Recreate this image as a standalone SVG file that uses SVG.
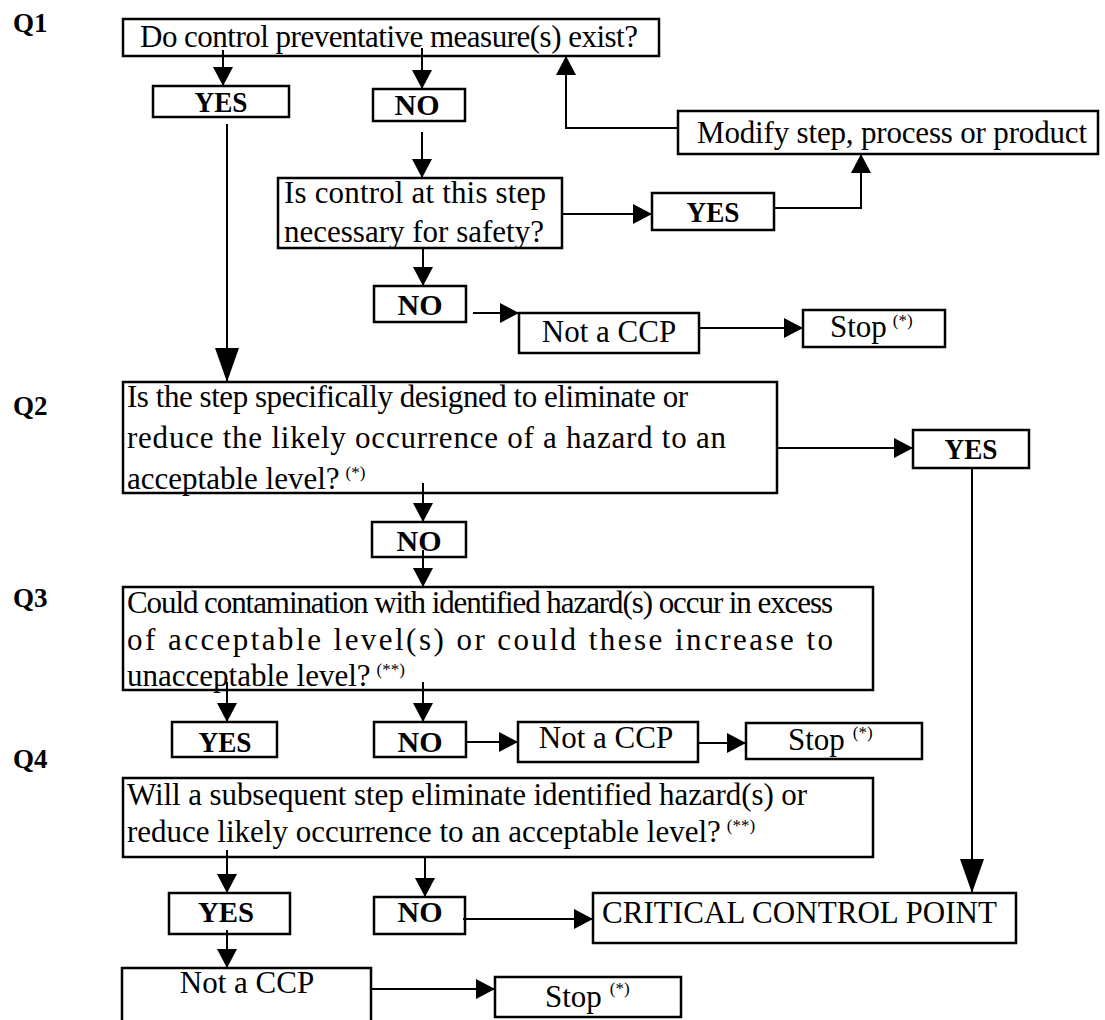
<svg xmlns="http://www.w3.org/2000/svg" width="1105" height="1020" viewBox="0 0 1105 1020">
<style>
.box{fill:#fff;stroke:#000;stroke-width:2.5}
.t{font-family:"Liberation Serif","Times New Roman",serif;font-size:31px;fill:#000}
.b{font-family:"Liberation Serif","Times New Roman",serif;font-size:30px;font-weight:bold;fill:#000;text-anchor:middle}
.q{font-family:"Liberation Serif","Times New Roman",serif;font-size:27px;font-weight:bold;fill:#000}
.m{text-anchor:middle}
.s{font-size:17px}
.c{fill:none;stroke:#000;stroke-width:2}
.a{marker-end:url(#ah)}
.A{marker-end:url(#big)}
</style>
<defs>
<marker id="ah" markerUnits="userSpaceOnUse" viewBox="0 0 19 20" markerWidth="19" markerHeight="20" refX="19" refY="10" orient="auto"><path d="M0,0 L19,10 L0,20 z" fill="#000"/></marker>
<marker id="big" markerUnits="userSpaceOnUse" viewBox="0 0 34 24" markerWidth="34" markerHeight="24" refX="34" refY="12" orient="auto"><path d="M0,0 L34,12 L0,24 z" fill="#000"/></marker>
</defs>
<rect width="1105" height="1020" fill="#fff"/>

<g id="labels">
<text class="q" x="13" y="32">Q1</text>
<text class="q" x="13" y="415">Q2</text>
<text class="q" x="13" y="607">Q3</text>
<text class="q" x="13" y="768">Q4</text>
</g>

<g id="q1">
<rect class="box" x="123" y="19" width="536" height="37"/>
<text class="t" x="140" y="47" textLength="498">Do control preventative measure(s) exist?</text>
</g>
<g id="yes1"><rect class="box" x="153" y="86" width="136" height="31"/><text class="b" x="221" y="112" textLength="53" lengthAdjust="spacingAndGlyphs">YES</text></g>
<g id="no1"><rect class="box" x="373" y="89" width="92" height="32"/><text class="b" x="417" y="115">NO</text></g>
<g id="modify"><rect class="box" x="678" y="111" width="420" height="43"/><text class="t" x="697" y="143" textLength="390">Modify step, process or product</text></g>
<g id="q1b">
<rect class="box" x="278" y="178" width="284" height="70"/>
<text class="t" x="284" y="203" textLength="262">Is control at this step</text>
<text class="t" x="284" y="242">necessary for safety?</text>
</g>
<g id="yes2"><rect class="box" x="652" y="193" width="122" height="37"/><text class="b" x="713" y="222" textLength="53" lengthAdjust="spacingAndGlyphs">YES</text></g>
<g id="no2"><rect class="box" x="374" y="286" width="92" height="36"/><text class="b" x="420" y="315">NO</text></g>
<g id="notccp1"><rect class="box" x="519" y="313" width="180" height="40"/><text class="t m" x="609" y="342">Not a CCP</text></g>
<g id="stop1"><rect class="box" x="803" y="310" width="142" height="37"/><text class="t" x="830" y="337">Stop<tspan class="s" dx="6" dy="-11">(*)</tspan></text></g>

<g id="q2">
<rect class="box" x="123" y="382" width="654" height="111"/>
<text class="t" x="127" y="407" textLength="561">Is the step specifically designed to eliminate or</text>
<text class="t" x="127" y="448" textLength="599">reduce the likely occurrence of a hazard to an</text>
<text class="t" x="127" y="489">acceptable level?<tspan class="s" dx="6" dy="-11">(*)</tspan></text>
</g>
<g id="yes3"><rect class="box" x="913" y="430" width="116" height="38"/><text class="b" x="971" y="459" textLength="53" lengthAdjust="spacingAndGlyphs">YES</text></g>
<g id="no3"><rect class="box" x="372" y="522" width="94" height="35"/><text class="b" x="419" y="551">NO</text></g>

<g id="q3">
<rect class="box" x="123" y="587" width="750" height="103"/>
<text class="t" x="127" y="613" textLength="706">Could contamination with identified hazard(s) occur in excess</text>
<text class="t" x="127" y="650" textLength="706">of acceptable level(s) or could these increase to</text>
<text class="t" x="127" y="686">unacceptable level?<tspan class="s" dx="6" dy="-11">(**)</tspan></text>
</g>
<g id="yes4"><rect class="box" x="172" y="722" width="105" height="35"/><text class="b" x="225" y="752" textLength="53" lengthAdjust="spacingAndGlyphs">YES</text></g>
<g id="no4"><rect class="box" x="374" y="722" width="92" height="35"/><text class="b" x="420" y="752">NO</text></g>
<g id="notccp2"><rect class="box" x="518" y="722" width="180" height="40"/><text class="t m" x="606" y="748">Not a CCP</text></g>
<g id="stop2"><rect class="box" x="746" y="723" width="176" height="36"/><text class="t" x="788" y="750">Stop<tspan class="s" dx="8" dy="-12">(*)</tspan></text></g>

<g id="q4">
<rect class="box" x="123" y="778" width="750" height="79"/>
<text class="t" x="127" y="805" textLength="680">Will a subsequent step eliminate identified hazard(s) or</text>
<text class="t" x="127" y="842">reduce likely occurrence to an acceptable level?<tspan class="s" dx="6" dy="-11">(**)</tspan></text>
</g>
<g id="yes5"><rect class="box" x="169" y="893" width="121" height="41"/><text class="b" x="226" y="922" textLength="56" lengthAdjust="spacingAndGlyphs">YES</text></g>
<g id="no5"><rect class="box" x="374" y="897" width="91" height="37"/><text class="b" x="420" y="922">NO</text></g>
<g id="ccp"><rect class="box" x="593" y="893" width="423" height="50"/><text class="t" x="602" y="923" textLength="395">CRITICAL CONTROL POINT</text></g>
<g id="notccp3"><rect class="box" x="122" y="968" width="249" height="60"/><text class="t m" x="247" y="993">Not a CCP</text></g>
<g id="stop3"><rect class="box" x="495" y="977" width="186" height="40"/><text class="t" x="545" y="1007">Stop<tspan class="s" dx="8" dy="-13">(*)</tspan></text></g>

<g id="connectors">
<path class="c a" d="M223,50 V86"/>
<path class="c a" d="M422,48 V89"/>
<path class="c a" d="M678,128 H566 V56"/>
<path class="c a" d="M422,132 V178"/>
<path class="c a" d="M562,214 H652"/>
<path class="c a" d="M774,208 H861 V154"/>
<path class="c a" d="M423,248 V286"/>
<path class="c a" d="M473,313 H519"/>
<path class="c a" d="M699,328 H803"/>
<path class="c A" d="M227,124 V382"/>
<path class="c a" d="M777,448 H913"/>
<path class="c A" d="M972,468 V893"/>
<path class="c a" d="M423,483 V522"/>
<path class="c a" d="M423,550 V587"/>
<path class="c a" d="M227,682 V722"/>
<path class="c a" d="M423,682 V722"/>
<path class="c a" d="M466,742 H518"/>
<path class="c a" d="M698,743 H746"/>
<path class="c a" d="M227,850 V893"/>
<path class="c a" d="M425,857 V897"/>
<path class="c a" d="M463,919 H593"/>
<path class="c a" d="M227,930 V968"/>
<path class="c a" d="M371,989 H495"/>
</g>
</svg>
